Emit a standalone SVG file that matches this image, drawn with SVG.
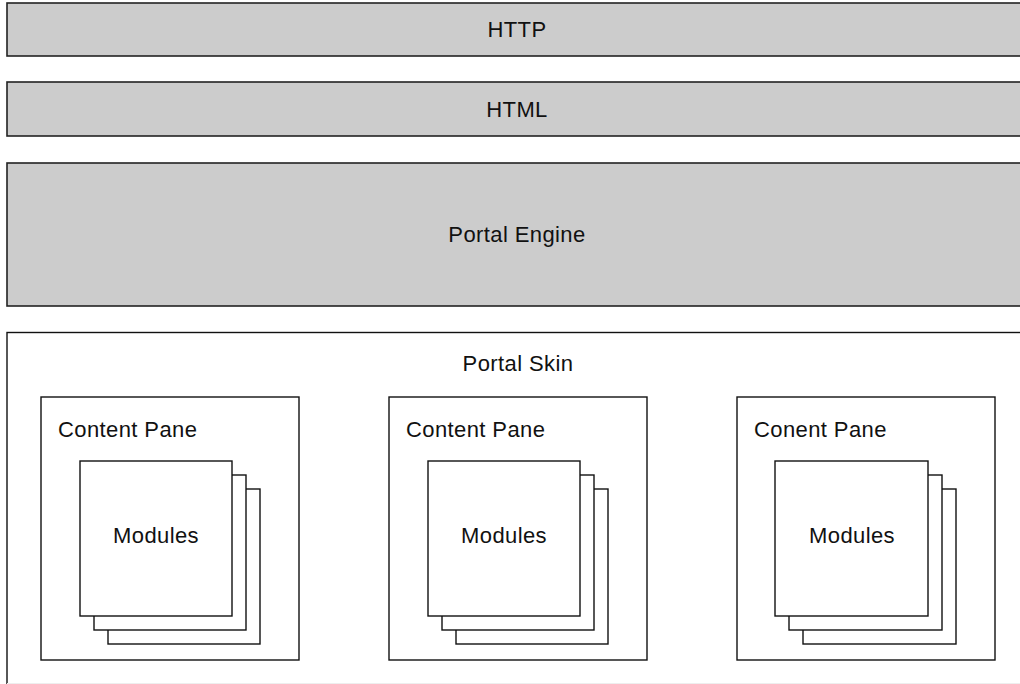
<svg xmlns="http://www.w3.org/2000/svg" width="1020" height="684" viewBox="0 0 1020 684">
<style>
.bar{fill:#cccccc;stroke:#222;stroke-width:1.6}
.box{fill:#fff;stroke:#111;stroke-width:1.4}
.t{font-family:"Liberation Sans",Arial,sans-serif;font-size:22px;fill:#111;letter-spacing:0.4px}
.c{text-anchor:middle}
</style>
<rect width="1020" height="684" fill="#fff"/>
<g id="http"><rect class="bar" x="7" y="3" width="1030" height="53"/><text class="t c" x="517" y="37">HTTP</text></g>
<g id="html"><rect class="bar" x="7" y="82" width="1030" height="54"/><text class="t c" x="517" y="117">HTML</text></g>
<g id="engine"><rect class="bar" x="7" y="163" width="1030" height="143"/><text class="t c" x="517" y="242">Portal Engine</text></g>
<g id="skin"><rect class="box" x="7" y="332.5" width="1030" height="360"/><line x1="7" y1="683.5" x2="1020" y2="683.5" stroke="#eee" stroke-width="1"/><text class="t c" x="518" y="371">Portal Skin</text></g>
<g id="pane1">
<rect class="box" x="41" y="397" width="258" height="263"/>
<text class="t" x="58" y="437">Content Pane</text>
<rect class="box" x="108" y="489" width="152" height="155"/>
<rect class="box" x="94" y="475" width="152" height="155"/>
<rect class="box" x="80" y="461" width="152" height="155"/>
<text class="t c" x="156" y="543">Modules</text>
</g>
<g id="pane2">
<rect class="box" x="389" y="397" width="258" height="263"/>
<text class="t" x="406" y="437">Content Pane</text>
<rect class="box" x="456" y="489" width="152" height="155"/>
<rect class="box" x="442" y="475" width="152" height="155"/>
<rect class="box" x="428" y="461" width="152" height="155"/>
<text class="t c" x="504" y="543">Modules</text>
</g>
<g id="pane3">
<rect class="box" x="737" y="397" width="258" height="263"/>
<text class="t" x="754" y="437">Conent Pane</text>
<rect class="box" x="803" y="489" width="153" height="155"/>
<rect class="box" x="789" y="475" width="153" height="155"/>
<rect class="box" x="775" y="461" width="153" height="155"/>
<text class="t c" x="852" y="543">Modules</text>
</g>
<g id="connectors"/>
</svg>
